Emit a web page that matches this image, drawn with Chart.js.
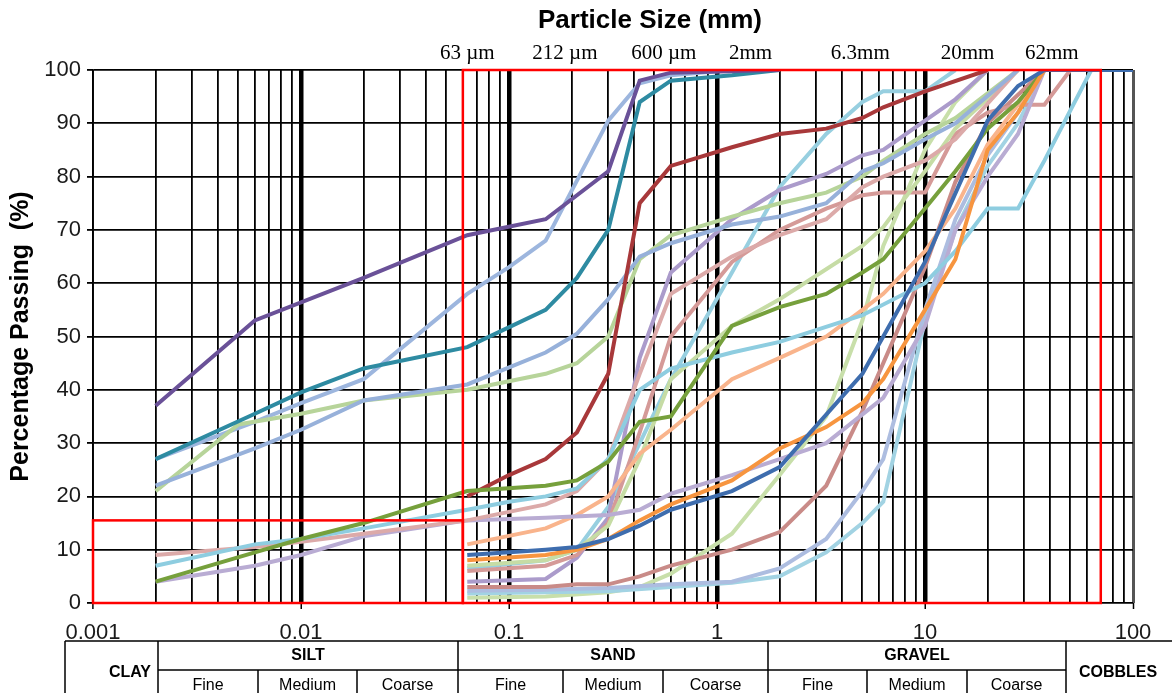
<!DOCTYPE html>
<html>
<head>
<meta charset="utf-8">
<script src="https://cdn.jsdelivr.net/npm/chart.js@4.4.1/dist/chart.umd.min.js"></script>
<style>
html, body { margin: 0; padding: 0; background: #fff; }
canvas { display: block; }
</style>
</head>
<body>
<canvas id="psd" width="1172" height="693"></canvas>
<script>
// axis labels
const xTickLabels = ['0.001', '0.01', '0.1', '1', '10', '100'];
const yTickValues = [0, 10, 20, 30, 40, 50, 60, 70, 80, 90, 100];

// sieve markers along the top
const sieveLabelSizes = [0.063, 0.212, 0.6, 2, 6.3, 20, 62];
const sieveLabelText = ['63 \u00b5m', '212 \u00b5m', '600 \u00b5m', '2mm', '6.3mm', '20mm', '62mm'];

// red zone boxes (mm, % passing)
const boxXMin = [0.001, 0.06];
const boxXMax = [0.06, 70];
const boxYMin = [0, 0];
const boxYMax = [15.5, 100];

// grading curves: particle size (mm) and % passing
const purpleSize = [0.002, 0.006, 0.02, 0.063, 0.15, 0.3, 0.425, 0.6, 2];
const purplePass = [37, 53, 61, 69, 72, 81, 98, 99.5, 100];

const tealSize = [0.002, 0.006, 0.01, 0.02, 0.063, 0.15, 0.212, 0.3, 0.425, 0.6, 1.18, 2];
const tealPass = [27, 35.5, 39.5, 44, 48, 55, 61, 70, 94, 98, 99, 100];

const lavBlueHiSize = [0.002, 0.006, 0.01, 0.02, 0.063, 0.1, 0.15, 0.3, 0.425, 0.6, 1.18];
const lavBlueHiPass = [27, 34, 37.5, 42, 58, 63, 68, 90.5, 97.5, 99, 100];

const lavBlueSize = [0.002, 0.006, 0.01, 0.02, 0.063, 0.15, 0.212, 0.3, 0.425, 0.6, 1.18, 2, 3.35, 5, 6.3, 10, 14, 28];
const lavBluePass = [22, 29, 32.5, 38, 41, 47, 50.5, 57, 65, 67.5, 71, 72.5, 75, 81, 82.5, 87, 90, 100];

const ltGreenSize = [0.002, 0.005, 0.01, 0.02, 0.063, 0.15, 0.212, 0.3, 0.425, 0.6, 1.18, 2, 3.35, 5, 6.3, 10, 14, 28];
const ltGreenPass = [21, 33.5, 35.5, 38, 40, 43, 45, 50, 64.5, 69, 72.5, 75, 77, 80, 83, 88, 91, 100];

const oliveSize = [0.002, 0.006, 0.01, 0.02, 0.063, 0.15, 0.212, 0.3, 0.425, 0.6, 1.18, 2, 3.35, 5, 6.3, 10, 14, 20, 28, 37.5];
const olivePass = [4, 9.5, 12, 15, 21, 22, 23, 26.5, 34, 35, 52, 55.5, 58, 62, 64.5, 74, 81, 89, 94, 100];

const ltTealSize = [0.002, 0.006, 0.01, 0.02, 0.063, 0.1, 0.15, 0.212, 0.3, 0.425, 0.6, 1.18, 2, 5, 10, 14, 20, 28, 37.5, 63];
const ltTealPass = [7, 11, 12, 14, 17.5, 19, 20, 21.5, 27, 40, 44, 47, 49, 54, 60, 66, 74, 74, 83, 100];

const pinkSize = [0.002, 0.006, 0.01, 0.02, 0.063, 0.15, 0.212, 0.3, 0.425, 0.6, 1.18, 2, 3.35, 5, 6.3, 10, 14, 28];
const pinkPass = [9, 10.5, 11.5, 13, 15.5, 18.5, 21, 27, 43, 58, 65, 69, 72, 78, 80, 83, 87, 100];

const lavenderSize = [0.002, 0.006, 0.01, 0.02, 0.063, 0.15, 0.3, 0.425, 0.6, 1.18, 2, 3.35, 6.3, 10, 14, 20, 28, 37.5];
const lavenderPass = [4, 7, 9, 12.5, 15.5, 16, 16.5, 17.5, 20.5, 24, 27, 30, 38.5, 52, 70, 80, 88, 100];

const darkRedSize = [0.063, 0.1, 0.15, 0.212, 0.3, 0.425, 0.6, 1.18, 2, 3.35, 5, 6.3, 10, 20];
const darkRedPass = [20, 24, 27, 32, 43, 75, 82, 85.5, 88, 89, 91, 93, 96, 100];

const ltOrangeSize = [0.063, 0.15, 0.212, 0.3, 0.425, 0.6, 1.18, 2, 3.35, 5, 6.3, 10, 14, 20, 37.5];
const ltOrangePass = [11, 14, 16.5, 20, 28, 32.5, 42, 46, 50, 55, 58, 66, 74, 86, 100];

const steelSize = [0.063, 0.1, 0.15, 0.212, 0.3, 0.425, 0.6, 1.18, 2, 5, 10, 20, 28, 37.5, 100];
const steelPass = [9, 9.5, 10, 10.5, 12, 14.5, 17.5, 21, 25.5, 43, 64, 90.5, 97, 100, 100];

const orangeSize = [0.063, 0.15, 0.212, 0.3, 0.425, 0.6, 1.18, 2, 3.35, 5, 6.3, 10, 14, 20, 28, 37.5];
const orangePass = [8, 9, 10, 12, 15.5, 18.5, 23, 29, 33, 37.5, 42, 55, 64.5, 85, 92, 100];

const paleGreenSize = [0.063, 0.15, 0.212, 0.3, 0.425, 0.6, 1.18, 2, 5, 6.3, 10, 14, 28];
const paleGreenPass = [7, 8, 10, 14.5, 27, 42, 52, 57, 67, 70.5, 81, 89, 100];

const rosePinkSize = [0.063, 0.15, 0.212, 0.3, 0.425, 0.6, 1.18, 2, 3.35, 5, 6.3, 10, 14, 20, 28, 37.5, 50];
const rosePinkPass = [6, 7, 9, 15, 32, 50, 64, 70, 74, 76.5, 77, 77, 88, 92, 93.5, 93.5, 100];

const mauveSize = [0.063, 0.15, 0.212, 0.3, 0.425, 0.6, 1.18, 2, 3.35, 5, 6.3, 10, 14, 20];
const mauvePass = [4, 4.5, 8.5, 16, 46, 62, 72, 77.5, 80.5, 84, 85, 90.5, 94.5, 100];

const roseSize = [0.063, 0.15, 0.212, 0.3, 0.425, 0.6, 1.18, 2, 3.35, 5, 10, 14, 20, 37.5];
const rosePass = [3, 3, 3.5, 3.5, 5, 7, 10, 13.3, 22, 36, 63, 79, 90, 100];

const lavBlueLowSize = [0.063, 0.15, 0.3, 0.6, 1.18, 2, 3.35, 5, 6.3, 10, 14, 20, 28, 37.5];
const lavBlueLowPass = [2.3, 2.5, 2.8, 3.5, 4, 6.5, 12, 21, 27, 55, 72, 84, 92, 100];

const tealLowSize = [0.063, 0.15, 0.3, 0.6, 1.18, 2, 3.35, 5, 6.3, 10, 14, 20, 28, 37.5];
const tealLowPass = [1.8, 2, 2.2, 3, 3.8, 5, 9.5, 15, 19, 53, 70, 82, 90, 100];

const greenLowSize = [0.063, 0.15, 0.3, 0.425, 0.6, 1.18, 2, 3.35, 5, 6.3, 10, 14, 20];
const greenLowPass = [1, 1.2, 2, 3, 5.5, 13, 24, 35, 53, 67, 85, 94, 100];

const tealSteepSize = [0.063, 0.15, 0.212, 0.3, 0.425, 0.6, 1.18, 2, 3.35, 5, 6.3, 10, 14];
const tealSteepPass = [6.5, 8, 10, 18, 30, 42, 62, 78, 88, 94, 96, 96, 100];

// first in list is drawn on top
const curveSizes = [steelSize, orangeSize, oliveSize, darkRedSize, purpleSize, tealSize,
  ltTealSize, lavBlueSize, ltGreenSize, lavBlueHiSize, pinkSize, lavenderSize, ltOrangeSize,
  paleGreenSize, rosePinkSize, mauveSize, roseSize, lavBlueLowSize, tealLowSize, greenLowSize, tealSteepSize];
const curvePasses = [steelPass, orangePass, olivePass, darkRedPass, purplePass, tealPass,
  ltTealPass, lavBluePass, ltGreenPass, lavBlueHiPass, pinkPass, lavenderPass, ltOrangePass,
  paleGreenPass, rosePinkPass, mauvePass, rosePass, lavBlueLowPass, tealLowPass, greenLowPass, tealSteepPass];
const curveColors = ['#3e6dae', '#f7953f', '#76a03c', '#a8383a', '#6a5198', '#2e8ba2',
  '#8ecde0', '#97b1da', '#b7d49a', '#9db6de', '#dcaaa9', '#b9acd3', '#f9b48c',
  '#c6dca5', '#d59a98', '#ab9bcb', '#c98b88', '#adbde0', '#a2d3e3', '#c8dfaa', '#97cfe0'];

function isDecade(v) {
    const l = Math.log10(v);
    return Math.abs(l - Math.round(l)) < 1e-6;
}

const datasets = curveSizes.map(function (sizes, i) {
    return {
        data: sizes.map(function (s, j) { return { x: s, y: curvePasses[i][j] }; }),
        borderColor: curveColors[i],
        backgroundColor: curveColors[i],
        borderWidth: 4,
        pointRadius: 0,
        tension: 0,
        fill: false,
    };
});

const extras = {
    id: 'psdExtras',
    afterDatasetsDraw(chart) {
        const ctx = chart.ctx;
        const xs = chart.scales.x, ys = chart.scales.y;
        ctx.save();
        ctx.strokeStyle = '#ff0000';
        ctx.lineWidth = 2.5;
        for (let i = 0; i < boxXMin.length; i++) {
            const x1 = xs.getPixelForValue(boxXMin[i]);
            const x2 = xs.getPixelForValue(boxXMax[i]);
            const y1 = ys.getPixelForValue(boxYMax[i]);
            const y2 = ys.getPixelForValue(boxYMin[i]);
            ctx.strokeRect(x1, y1, x2 - x1, y2 - y1);
        }
        ctx.restore();
    },
    afterDraw(chart) {
        const ctx = chart.ctx;
        const xs = chart.scales.x;
        ctx.save();
        ctx.fillStyle = '#000';
        ctx.textAlign = 'center';
        ctx.textBaseline = 'middle';
        ctx.font = 'bold 26px "Liberation Sans", Arial, sans-serif';
        ctx.fillText('Particle Size (mm)', 650, 21);

        const nudge = [0, -12, -7, -29, -23, -20, -38];
        ctx.font = '21px "Liberation Serif", "Times New Roman", serif';
        sieveLabelSizes.forEach(function (s, i) {
            ctx.fillText(sieveLabelText[i], xs.getPixelForValue(s) + nudge[i], 53);
        });

        // soil classification table
        ctx.strokeStyle = '#000';
        ctx.lineWidth = 1.5;
        const top = 641, mid = 670, bot = 700;
        ctx.beginPath();
        ctx.moveTo(65, top); ctx.lineTo(1172, top);
        ctx.moveTo(158, mid); ctx.lineTo(1066, mid);
        [65, 158, 458, 768, 1066].forEach(function (x) { ctx.moveTo(x, top); ctx.lineTo(x, bot); });
        [258, 357, 563, 663, 867, 967].forEach(function (x) { ctx.moveTo(x, mid); ctx.lineTo(x, bot); });
        ctx.stroke();

        ctx.font = 'bold 16px "Liberation Sans Narrow", "Arial Narrow", "Liberation Sans", sans-serif';
        ctx.fillText('CLAY', 130, 673);
        ctx.fillText('SILT', 308, 656);
        ctx.fillText('SAND', 613, 656);
        ctx.fillText('GRAVEL', 917, 656);
        ctx.fillText('COBBLES', 1118, 673);
        ctx.font = '16px "Liberation Sans Narrow", "Arial Narrow", "Liberation Sans", sans-serif';
        const sub = ['Fine', 'Medium', 'Coarse'];
        [[158, 258, 357, 458], [458, 563, 663, 768], [768, 867, 967, 1066]].forEach(function (cols) {
            for (let k = 0; k < 3; k++) {
                ctx.fillText(sub[k], (cols[k] + cols[k + 1]) / 2, 686);
            }
        });
        ctx.restore();
    }
};

Chart.defaults.font.family = '"Liberation Sans", Arial, sans-serif';
Chart.defaults.color = '#222';

new Chart(document.getElementById('psd'), {
    type: 'line',
    data: { datasets: datasets },
    options: {
        responsive: false,
        animation: false,
        layout: { padding: { top: 70, right: 39, bottom: 0, left: 0 } },
        plugins: {
            legend: { display: false },
            tooltip: { enabled: false },
        },
        scales: {
            x: {
                type: 'logarithmic',
                min: 0.001,
                max: 100,
                afterBuildTicks: function (scale) {
                    const t = [];
                    for (let e = -3; e <= 1; e++) {
                        for (let k = 1; k <= 9; k++) t.push({ value: k * Math.pow(10, e) });
                    }
                    t.push({ value: 100 });
                    scale.ticks = t;
                },
                afterFit: function (scale) { scale.height = 90; },
                ticks: {
                    autoSkip: false,
                    maxRotation: 0,
                    padding: 11,
                    font: { size: 22 },
                    color: '#1a1a1a',
                    callback: function (value) {
                        return isDecade(value) ? xTickLabels[Math.round(Math.log10(value)) + 3] : '';
                    },
                },
                grid: {
                    color: function (c) { return c.tick && c.tick.value === 100 ? '#555' : '#000'; },
                    lineWidth: function (c) {
                        const v = c.tick ? c.tick.value : 0;
                        if (v === 100) return 3;
                        if (isDecade(v) && v > 0.002) return 4.5;
                        return 1.8;
                    },
                    tickColor: function (c) { return c.tick && isDecade(c.tick.value) ? '#000' : 'rgba(0,0,0,0)'; },
                    tickLength: 6,
                    tickWidth: 1.5,
                },
                border: { display: false },
            },
            y: {
                min: 0,
                max: 100,
                afterBuildTicks: function (scale) {
                    scale.ticks = yTickValues.map(function (v) { return { value: v }; });
                },
                afterFit: function (scale) { scale.width = 93; },
                ticks: {
                    padding: 6,
                    font: { size: 22 },
                    color: '#1a1a1a',
                },
                grid: {
                    color: '#000',
                    lineWidth: 1.8,
                    tickLength: 6,
                },
                border: { color: '#000', width: 1.8 },
                title: {
                    display: true,
                    text: 'Percentage Passing  (%)',
                    color: '#000',
                    font: { size: 25, weight: 'bold' },
                    padding: { top: 6, bottom: 0 },
                },
            },
        },
    },
    plugins: [extras],
});
</script>
</body>
</html>
